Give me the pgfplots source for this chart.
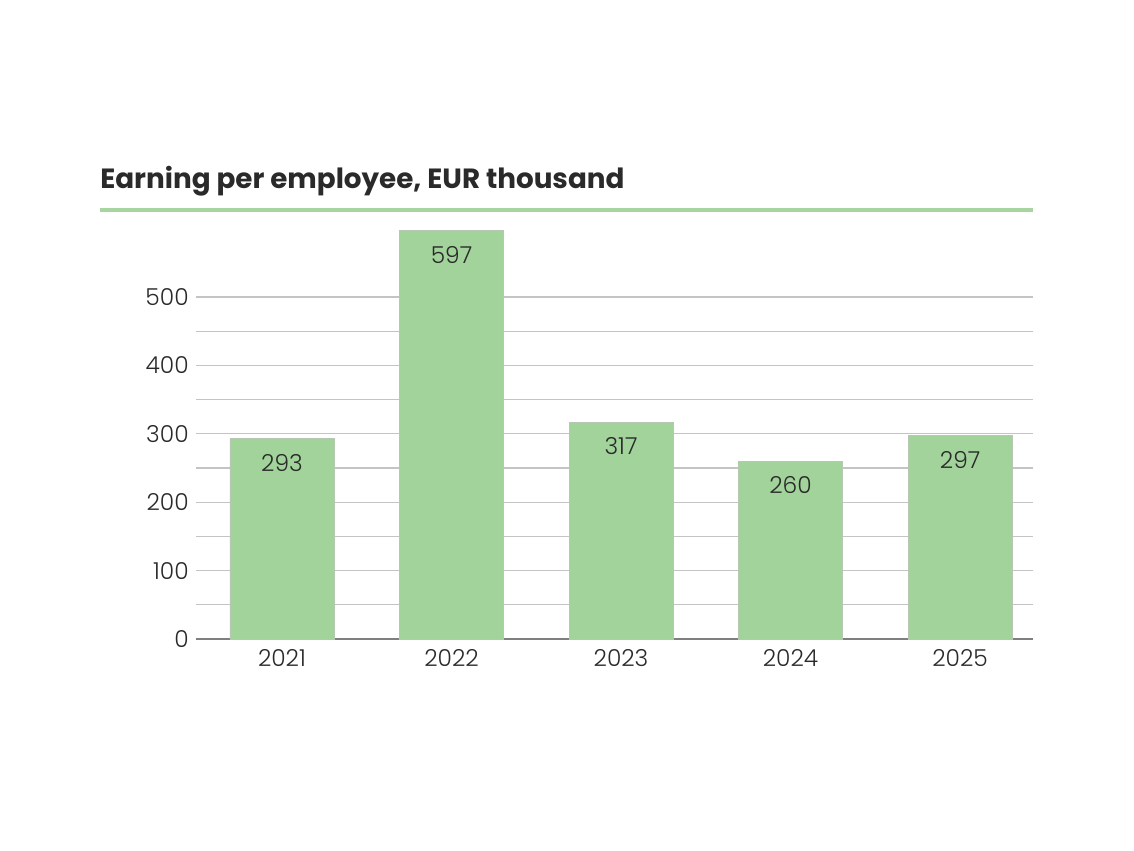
\documentclass[border=0pt]{standalone}
\usepackage{pgfplots}
\pgfplotsset{compat=1.18}
\usepackage{fontspec}
\setmainfont{Poppins}[UprightFont=* Light, BoldFont=* Bold]
\definecolor{barg}{HTML}{A1D39A}
\definecolor{bared}{HTML}{B4C9B0}
\definecolor{lineg}{HTML}{A8D4A0}
\definecolor{gridc}{HTML}{C4C4C4}
\definecolor{axc}{HTML}{7F7F7F}
\definecolor{txt}{HTML}{2A2A2A}
\begin{document}
\begin{tikzpicture}[x=0.75pt,y=0.75pt]
\path[use as bounding box] (0,0) rectangle (1134,-850);
\node[anchor=west, inner sep=0, text=txt, font=\bfseries\fontsize{20.85}{24}\selectfont] at (100,-181) {Earning per employee, EUR thousand};
\draw[lineg, line width=2.4pt] (100,-210) -- (1033,-210);
\begin{axis}[
  at={(196*0.75pt,-639*0.75pt)}, anchor=south west,
  scale only axis, width=627.75pt, height=307.8pt,
  ymin=0, ymax=600, xmin=-0.507, xmax=4.43,
  ybar, bar width=78pt,
  axis x line*=bottom, axis y line*=left,
  y axis line style={draw=none},
  x axis line style={axc, line width=0.8pt},
  major tick length=0pt, minor tick length=0pt,
  ytick={0,100,...,500},
  minor ytick={50,150,...,450},
  ymajorgrids, yminorgrids,
  major grid style={gridc, line width=0.8pt},
  minor grid style={gridc, line width=0.8pt},
  xtick=data, xticklabels={2021,2022,2023,2024,2025},
  /pgf/number format/assume math mode=true,
  ticklabel style={text=txt, font=\fontsize{17.5}{20}\selectfont},
  yticklabel style={xshift=-2pt},
  xticklabel style={yshift=-4pt},
  nodes near coords,
  nodes near coords style={anchor=north, inner sep=0pt, yshift=-11.5pt, text=txt, font=\fontsize{17.5}{20}\selectfont},
]
\addplot[fill=barg, draw=bared, line width=0.6pt] coordinates {(0,293) (1,597) (2,317) (3,260) (4,297)};
\end{axis}
\end{tikzpicture}
\end{document}
